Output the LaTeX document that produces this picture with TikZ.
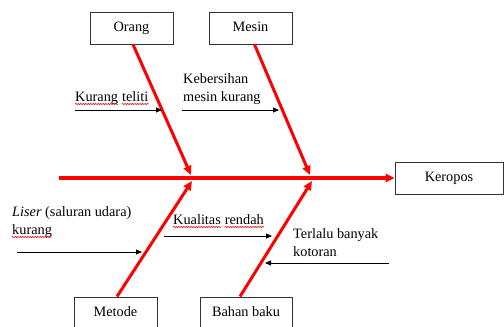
\documentclass[tikz,border=0pt]{standalone}
\usepackage{fontspec}
\setmainfont{Liberation Serif}
\usetikzlibrary{arrows.meta,decorations.pathmorphing}
\begin{document}
\begin{tikzpicture}[x=1pt,y=-1pt,
  box/.style={draw=black!80,line width=0.9pt,rectangle,minimum width=83pt,minimum height=32pt,inner sep=0pt,text height=10pt,text depth=3pt,font=\fontsize{14.3}{17}\selectfont},
  lbl/.style={anchor=base west,inner sep=0pt,font=\fontsize{14.3}{17}\selectfont},
  bone/.style={draw=red,line width=3pt,-{Triangle[length=9pt,width=8pt]}},
  cause/.style={draw=black,line width=0.8pt,-{Triangle[length=6pt,width=5pt]}},
  wavy/.style={draw=red,line width=0.5pt,decorate,decoration={snake,amplitude=0.7pt,segment length=2.5pt}}
]
\useasboundingbox (0,0) rectangle (504,327);
% boxes
\node[box] (orang) at (131.5,28) {Orang};
\node[box] (mesin) at (250.5,28) {Mesin};
\node[box,minimum width=108pt] (keropos) at (449,178) {Keropos};
\node[box] (metode) at (115.5,313) {Metode};
\node[box,minimum width=92pt] (bahan) at (246,313) {Bahan baku};
% spine
\coordinate (s0) at (59,178);
\draw[bone,line width=3.5pt] (s0) -- (keropos.west);
% bones
\coordinate (j1) at (191,175);
\coordinate (j2) at (310,175);
\coordinate (j3) at (192,181);
\coordinate (j4) at (312,181);
\draw[bone] ([xshift=1.5pt]orang.south) -- (j1);
\draw[bone] ([xshift=4pt]mesin.south) -- (j2);
\draw[bone] ([xshift=1.5pt]metode.north) -- (j3);
\draw[bone] ([xshift=-6pt]bahan.north) -- (j4);
% causes: Orang
\node[lbl] (k1a) at (75,101) {Kurang};
\node[lbl] (k1b) at ([xshift=3.6pt]k1a.base east) {teliti};
\draw[wavy] ([yshift=-3pt]k1a.base west) -- ([yshift=-3pt]k1a.base east);
\draw[wavy] ([yshift=-3pt]k1b.base west) -- ([yshift=-3pt]k1b.base east);
\coordinate (a1s) at (75,110); \coordinate (a1e) at (162,110);
\draw[cause] (a1s) -- (a1e);
% Mesin
\node[lbl] (k2a) at (183,83) {Kebersihan};
\node[lbl] (k2b) at (183,101) {mesin kurang};
\coordinate (a2s) at (182,110); \coordinate (a2e) at (279,110);
\draw[cause] (a2s) -- (a2e);
% Metode
\node[lbl] (k3a) at (12,216) {\textit{Liser} (saluran udara)};
\node[lbl] (k3b) at (12,234) {kurang};
\draw[wavy] ([yshift=-3pt]k3b.base west) -- ([yshift=-3pt]k3b.base east);
\coordinate (a3s) at (17,252); \coordinate (a3e) at (142,252);
\draw[cause] (a3s) -- (a3e);
% Bahan baku
\node[lbl] (k4a) at (173,224) {Kualitas};
\node[lbl] (k4b) at ([xshift=3.6pt]k4a.base east) {rendah};
\draw[wavy] ([yshift=-3pt]k4a.base west) -- ([yshift=-3pt]k4a.base east);
\draw[wavy] ([yshift=-3pt]k4b.base west) -- ([yshift=-3pt]k4b.base east);
\coordinate (a4s) at (164,236); \coordinate (a4e) at (272,236);
\draw[cause] (a4s) -- (a4e);
\node[lbl] (k5a) at (293,238) {Terlalu banyak};
\node[lbl] (k5b) at (293,256) {kotoran};
\coordinate (a5s) at (389,263); \coordinate (a5e) at (265,263);
\draw[cause] (a5s) -- (a5e);
\end{tikzpicture}
\end{document}
